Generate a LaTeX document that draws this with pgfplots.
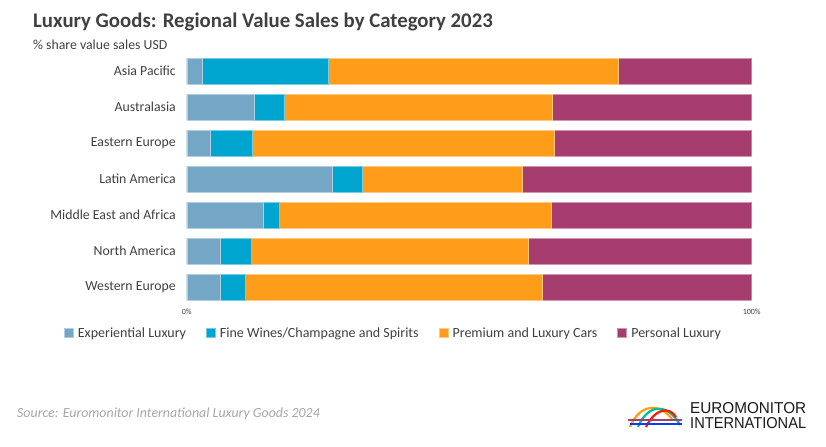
\documentclass[border=0pt]{standalone}
\usepackage{pgfplots}
\pgfplotsset{compat=1.18}
\usepackage{pgfplotstable}
\usepackage{fontspec}
\usepackage{graphicx}
\setmainfont{Carlito}
\newfontfamily\logofont{Liberation Sans}
\definecolor{cExp}{HTML}{74A7C5}
\definecolor{cWine}{HTML}{00A5CF}
\definecolor{cCars}{HTML}{FF9C1A}
\definecolor{cPers}{HTML}{A73D6E}
\definecolor{txt}{HTML}{404040}
\definecolor{src}{HTML}{A6A6A6}
\pgfplotstableread{
idx exp wine cars pers
0 2.7 22.4 51.3 23.6
1 11.9 5.4 47.4 35.3
2 4.2 7.4 53.5 34.9
3 25.7 5.4 28.3 40.6
4 13.6 2.8 48.2 35.4
5 5.9 5.5 49.0 39.6
6 5.9 4.4 52.7 37.0
}\datatable
\begin{document}
\begin{tikzpicture}
\path[use as bounding box] (0bp,0bp) rectangle (826bp,447bp);
\begin{scope}[x=1bp,y=1bp]
\node[anchor=base west, inner sep=0pt, text=txt, font=\fontsize{20.8bp}{24bp}\selectfont\bfseries] at (33,419) {Luxury Goods: Regional Value Sales by Category 2023};
\node[anchor=base west, inner sep=0pt, text=txt, font=\fontsize{13.8bp}{16bp}\selectfont] at (33,397) {\% share value sales USD};
\node[anchor=base west, inner sep=0pt, text=src, font=\fontsize{13.9bp}{16bp}\selectfont\itshape] at (17,30) {Source: Euromonitor International Luxury Goods 2024};
\begin{scope}[line width=2.2bp]
\draw[cCars] (630,20) .. controls (640,44) and (660,44) .. (672,28);
\draw[cWine!70!green] (638,20) .. controls (648,44) and (668,44) .. (680,22);
\draw[red!80!orange] (646,20) .. controls (656,40) and (670,40) .. (676,30);
\draw[cPers] (628,27) -- (682,27);
\draw[blue!60!cWine] (630,23) -- (682,23);
\end{scope}
\node[anchor=west, inner sep=0pt, text=black!90, font=\logofont] at (690,39) {\resizebox{116bp}{11bp}{EUROMONITOR}};
\node[anchor=west, inner sep=0pt, text=black!90, font=\logofont] at (690,24) {\resizebox{116bp}{11bp}{INTERNATIONAL}};
\end{scope}
\begin{axis}[
  at={(186.7bp,142bp)}, anchor=south west,
  scale only axis, width=565bp, height=252bp,
  xbar stacked, bar width=26bp,
  xmin=0, xmax=100, ymin=-0.5, ymax=6.5,
  y dir=reverse,
  axis line style={draw=none},
  ytick={0,...,6},
  yticklabels={Asia Pacific,Australasia,Eastern Europe,Latin America,Middle East and Africa,North America,Western Europe},
  yticklabel style={anchor=east, inner sep=0pt, xshift=-10.7bp, text=txt, font=\fontsize{13.8bp}{15bp}\selectfont},
  xtick={0,100}, xticklabels={0\%,100\%},
  xticklabel style={anchor=north, inner sep=0pt, yshift=-4bp, text=txt, font=\fontsize{8bp}{9bp}\selectfont},
  major tick length=0pt,
  tick style={draw=none},
  legend columns=4,
  legend style={at={(0.366,-0.111)}, anchor=center, draw=none, fill=none,
    font=\fontsize{14bp}{16bp}\selectfont, text=txt,
    /tikz/every odd column/.append style={column sep=2.5bp},
    /tikz/every even column/.append style={column sep=18bp}},
  legend image code/.code={\fill[#1] (0bp,-4.5bp) rectangle (9bp,4.5bp);},
]
\addplot[fill=cExp, draw=white!45!cExp, line width=0.4bp] table[x=exp, y=idx] {\datatable};
\addplot[fill=cWine, draw=white!45!cWine, line width=0.4bp] table[x=wine, y=idx] {\datatable};
\addplot[fill=cCars, draw=white!45!cCars, line width=0.4bp] table[x=cars, y=idx] {\datatable};
\addplot[fill=cPers, draw=white!45!cPers, line width=0.4bp] table[x=pers, y=idx] {\datatable};
\legend{Experiential Luxury,Fine Wines/Champagne and Spirits,Premium and Luxury Cars,Personal Luxury}
\end{axis}
\end{tikzpicture}
\end{document}
